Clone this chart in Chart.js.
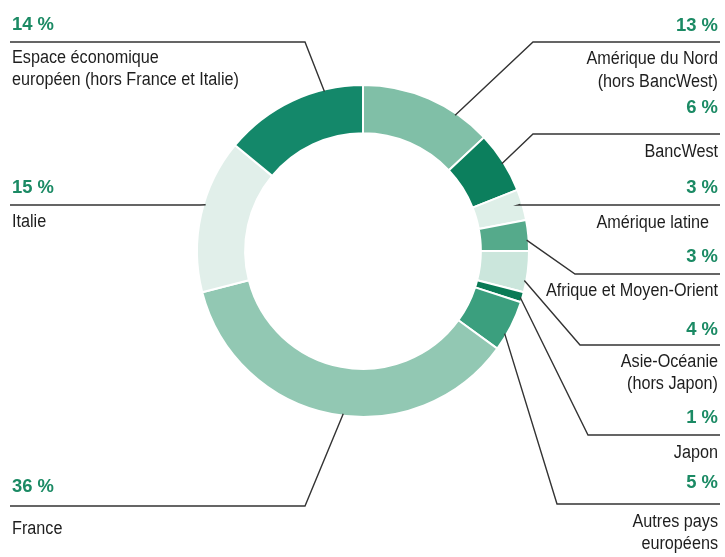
<!DOCTYPE html>
<html>
<head>
<meta charset="utf-8">
<script src="https://cdn.jsdelivr.net/npm/chart.js@4.4.0/dist/chart.umd.min.js"></script>
<style>
  html, body { margin: 0; padding: 0; background: #fff; }
  #wrap { width: 725px; height: 557px; }
</style>
</head>
<body>
<div id="wrap"><canvas id="pie" width="725" height="557"></canvas></div>
<script>
// Répartition géographique, dans l'ordre horaire depuis midi
var regions = [
    ['Amérique du Nord', '(hors BancWest)'],
    ['BancWest'],
    ['Amérique latine'],
    ['Afrique et Moyen-Orient'],
    ['Asie-Océanie', '(hors Japon)'],
    ['Japon'],
    ['Autres pays', 'européens'],
    ['France'],
    ['Italie'],
    ['Espace économique', 'européen (hors France et Italie)']
];
var shares = [13, 6, 3, 3, 4, 1, 5, 36, 15, 14];
var sliceColors = ['#80bfa7', '#0c7f5d', '#deefe8', '#55aa8b', '#cbe6dc',
                   '#0a7a56', '#3b9f7e', '#92c8b3', '#e1efea', '#14886a'];

// where each label sits: side, y of the value, y of the rule, elbow x,
// y of each text line, and where along the slice the leader touches
var labelPos = [
    {side: 'R', pctY: 26,  lineY: 42,  elbow: 533, textY: [59, 82],  at: 0.73},
    {side: 'R', pctY: 108, lineY: 134, elbow: 533, textY: [152],     at: 0.51},
    {side: 'R', pctY: 188, lineY: 205, elbow: 518, textY: [223],     at: 0.47, textRight: 709},
    {side: 'R', pctY: 257, lineY: 274, elbow: 575, textY: [291],     at: 0.65},
    {side: 'R', pctY: 330, lineY: 345, elbow: 580, textY: [362, 384], at: 0.72},
    {side: 'R', pctY: 418, lineY: 435, elbow: 588, textY: [453],     at: 0.58},
    {side: 'R', pctY: 483, lineY: 504, elbow: 557, textY: [522, 544], at: 0.68},
    {side: 'L', pctY: 487, lineY: 506, elbow: 305, textY: [529],     at: 0.47},
    {side: 'L', pctY: 188, lineY: 205, elbow: 200, textY: [222],     at: 0.57},
    {side: 'L', pctY: 25,  lineY: 42,  elbow: 305, textY: [58, 80],  at: 0.73}
];

var pctColor = '#1b8a64';
var textColor = '#1e1e1e';
var lineColor = '#333333';
var textFont = '18px "Liberation Sans", Arial, sans-serif';
var pctFont = 'bold 19px "Liberation Sans", Arial, sans-serif';

// condensed text: squeeze horizontally around the anchor point
function squeezedText(ctx, s, x, y, sx) {
    ctx.save();
    ctx.translate(x, y);
    ctx.scale(sx, 1);
    ctx.fillText(s, 0, 0);
    ctx.restore();
}

var calloutPlugin = {
    id: 'callouts',
    afterDraw: function(chart) {
        var ctx = chart.ctx;
        var arcs = chart.getDatasetMeta(0).data;
        ctx.save();
        for (var i = 0; i < arcs.length; i++) {
            var arc = arcs[i];
            var p = labelPos[i];
            var a = arc.startAngle + p.at * (arc.endAngle - arc.startAngle);
            var r = arc.outerRadius - 2;
            var ax = arc.x + Math.cos(a) * r;
            var ay = arc.y + Math.sin(a) * r;

            // leader: rule along the label, then a slant to the ring
            ctx.strokeStyle = lineColor;
            ctx.lineWidth = 1.4;
            ctx.beginPath();
            if (p.side == 'R') {
                ctx.moveTo(720, p.lineY);
            } else {
                ctx.moveTo(10, p.lineY);
            }
            ctx.lineTo(p.elbow, p.lineY);
            ctx.lineTo(ax, ay);
            ctx.stroke();

            var tx = p.side == 'R' ? 718 : 12;
            ctx.textAlign = p.side == 'R' ? 'right' : 'left';
            ctx.textBaseline = 'middle';
            ctx.fillStyle = pctColor;
            ctx.font = pctFont;
            squeezedText(ctx, shares[i] + ' %', tx, p.pctY, 0.97);

            ctx.fillStyle = textColor;
            ctx.font = textFont;
            var lx = p.textRight ? p.textRight : tx;
            for (var k = 0; k < regions[i].length; k++) {
                squeezedText(ctx, regions[i][k], lx, p.textY[k], 0.9);
            }
        }
        ctx.restore();
    }
};

var chart = new Chart(document.getElementById('pie'), {
    type: 'doughnut',
    data: {
        labels: regions.map(function(r) { return r.join(' '); }),
        datasets: [{
            data: shares,
            backgroundColor: sliceColors,
            borderColor: '#ffffff',
            borderWidth: 2
        }]
    },
    options: {
        responsive: false,
        animation: false,
        cutout: '71%',
        layout: { padding: { top: 84, bottom: 139, left: 196, right: 195 } },
        plugins: {
            legend: { display: false },
            tooltip: { enabled: false }
        }
    },
    plugins: [calloutPlugin]
});
</script>
</body>
</html>
